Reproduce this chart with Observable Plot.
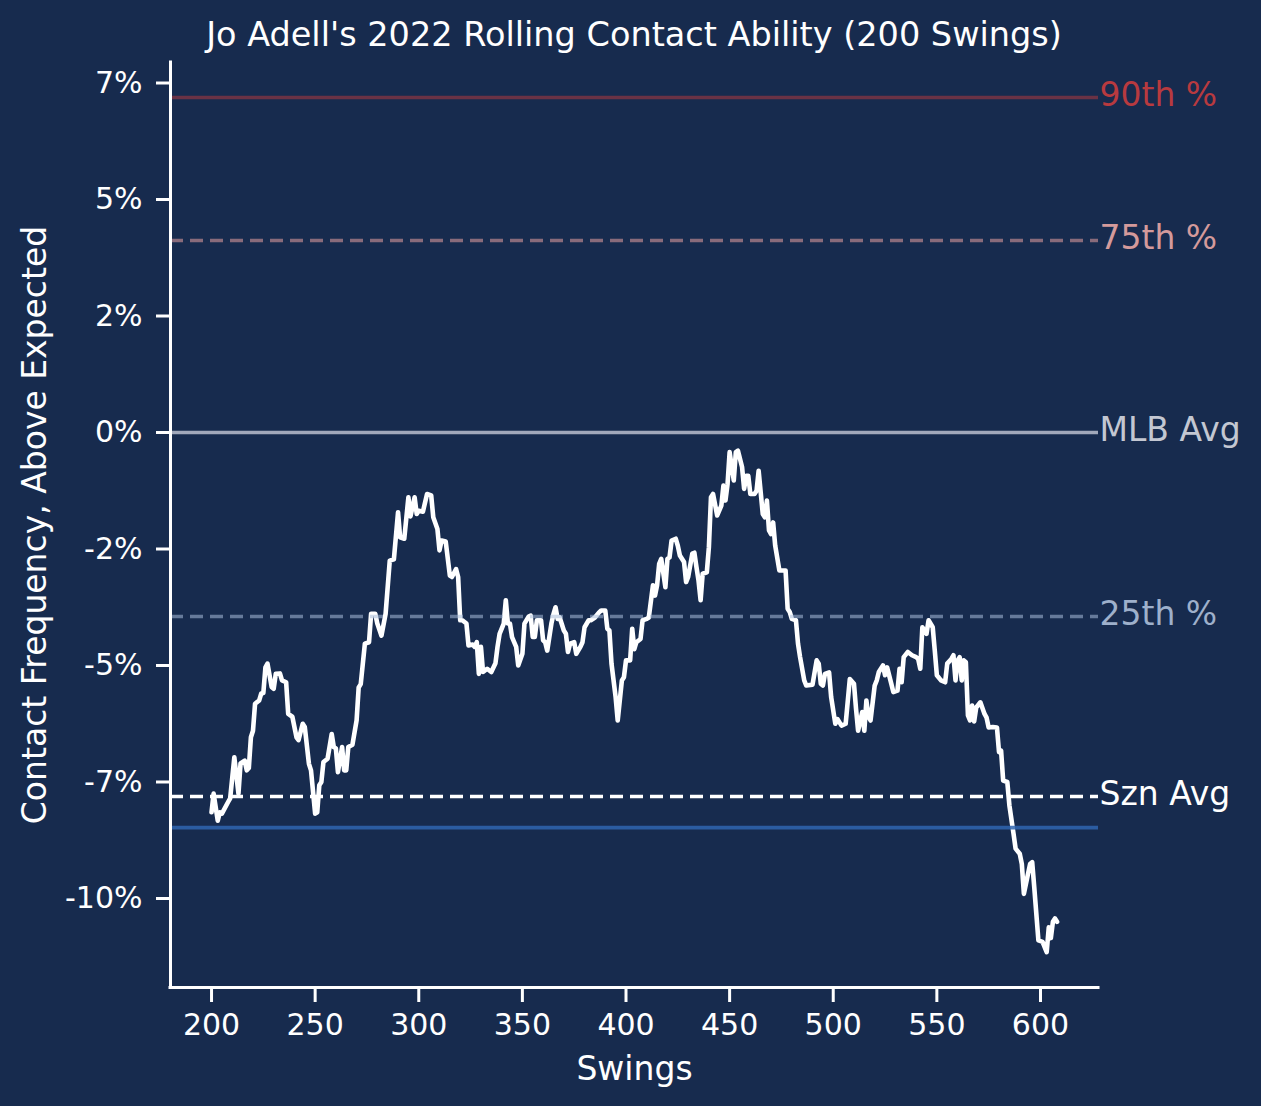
<!DOCTYPE html>
<html>
<head>
<meta charset="utf-8">
<script src="https://cdn.jsdelivr.net/npm/d3@7"></script>
<script src="https://cdn.jsdelivr.net/npm/@observablehq/plot@0.6"></script>
<style>
  html, body { margin: 0; padding: 0; background: #172b4e; }
  #wrap { position: relative; width: 1261px; height: 1106px; background: #172b4e; overflow: hidden; }
  #title { position: absolute; top: 18px; left: 170px; width: 928px; text-align: center; z-index: 2;
           font-family: "DejaVu Sans", sans-serif; font-size: 33.5px; line-height: 33px; color: #ffffff; white-space: nowrap; }
  #chart { position: absolute; top: 50px; left: 0; z-index: 1; }
</style>
</head>
<body>
<div id="wrap">
  <div id="title">Jo Adell's 2022 Rolling Contact Ability (200 Swings)</div>
  <div id="chart"></div>
</div>
<script>
const titleText = "Jo Adell's 2022 Rolling Contact Ability (200 Swings)";
const xLabel = "Swings";
const yLabel = "Contact Frequency, Above Expected";

const xTicks = [200, 250, 300, 350, 400, 450, 500, 550, 600];
const yTicks = [7.5, 5, 2.5, 0, -2.5, -5, -7.5, -10];
const yTickLabels = ["7%", "5%", "2%", "0%", "-2%", "-5%", "-7%", "-10%"];

const refNames = ["90th %", "75th %", "MLB Avg", "25th %", "Szn Avg", ""];
const refValues = [7.19, 4.12, 0, -3.95, -7.81, -8.48];

const swings = [
 200,201,203,204,205,208,209,211,213,214,
 216,217,218,219,220,221,223,224,225,226,
 227,229,230,231,233,234,236,237,239,241,
 242,244,245,247,248,250,251,252,253,254,
 256,258,259,260,261,263,264,265,266,268,
 270,271,272,274,276,277,279,280,282,284,
 286,288,290,291,293,295,296,298,299,300,
 302,304,306,307,309,310,311,313,315,316,
 318,319,320,321,323,324,326,327,328,329,
 330,331,333,335,337,338,339,341,342,343,
 344,345,347,348,350,351,353,354,355,356,
 357,359,360,361,362,364,365,366,367,368,
 370,371,372,373,375,376,378,379,380,382,
 383,385,387,388,390,391,392,393,395,396,
 398,399,400,402,403,404,405,407,408,410,
 411,413,414,415,416,417,419,420,421,422,
 424,425,426,428,429,430,432,433,434,435,
 436,437,439,440,441,442,444,446,447,448,
 449,450,452,453,454,456,457,458,459,460,
 462,463,464,466,467,468,469,470,471,472,
 474,475,477,478,479,480,482,483,484,486,
 487,490,492,493,494,495,496,498,499,501,
 502,504,506,508,510,511,512,514,515,516,
 517,518,520,521,522,524,525,526,528,529,
 531,532,533,534,536,538,540,541,542,543,
 545,546,548,549,550,552,554,555,557,558,
 559,560,561,562,563,564,565,566,567,568,
 569,571,573,574,575,577,579,580,581,582,
 584,585,587,588,590,591,592,594,595,596,
 597,599,601,603,604,605,606,607,608
];

const contact = [
 -8.15,-7.75,-8.33,-8.15,-8.18,-7.93,-7.85,-6.97,-7.75,-7.10,
 -7.04,-7.25,-7.20,-6.54,-6.40,-5.82,-5.75,-5.60,-5.59,-5.04,
 -4.96,-5.46,-5.50,-5.18,-5.17,-5.32,-5.36,-6.04,-6.10,-6.54,
 -6.60,-6.25,-6.32,-7.11,-7.25,-8.18,-8.15,-7.57,-7.50,-7.07,
 -7.00,-6.47,-6.75,-6.78,-7.29,-6.75,-7.25,-7.25,-6.75,-6.70,
 -6.18,-5.47,-5.40,-4.53,-4.50,-3.89,-3.89,-4.10,-4.36,-3.89,
 -2.75,-2.72,-1.71,-2.25,-2.28,-1.39,-1.80,-1.39,-1.75,-1.68,
 -1.70,-1.32,-1.35,-1.82,-2.07,-2.53,-2.32,-2.34,-3.07,-3.10,
 -2.93,-3.10,-4.03,-4.03,-4.10,-4.57,-4.55,-4.60,-4.50,-5.18,
 -4.60,-5.14,-5.07,-5.14,-4.95,-4.60,-4.32,-4.10,-3.60,-4.10,
 -4.10,-4.39,-4.60,-5.00,-4.75,-4.10,-3.95,-3.93,-4.39,-4.39,
 -4.03,-4.03,-4.46,-4.50,-4.68,-4.10,-3.90,-3.75,-4.00,-3.97,
 -4.25,-4.32,-4.71,-4.53,-4.50,-4.75,-4.60,-4.50,-4.18,-4.03,
 -4.03,-3.97,-3.86,-3.82,-3.82,-4.21,-4.25,-4.96,-5.68,-6.18,
 -5.32,-5.25,-4.89,-4.89,-4.21,-4.65,-4.50,-4.43,-4.03,-4.00,
 -3.97,-3.28,-3.50,-3.28,-2.82,-2.71,-3.32,-2.71,-2.68,-2.32,
 -2.28,-2.43,-2.64,-2.78,-3.21,-3.10,-2.60,-2.58,-2.89,-3.18,
 -3.60,-3.03,-3.00,-2.46,-1.39,-1.32,-1.78,-1.57,-1.14,-1.46,
 -1.11,-0.42,-1.03,-0.42,-0.39,-0.74,-1.21,-0.93,-0.93,-1.32,
 -1.32,-1.25,-0.82,-1.75,-1.82,-1.46,-2.10,-2.18,-1.93,-2.43,
 -2.96,-2.96,-2.96,-3.78,-3.85,-4.00,-4.03,-4.53,-4.82,-5.32,
 -5.43,-5.41,-4.89,-4.96,-5.39,-5.43,-5.18,-5.15,-5.68,-6.25,
 -6.15,-6.29,-6.25,-5.29,-5.39,-5.93,-6.40,-6.00,-6.40,-5.75,
 -6.10,-6.18,-5.43,-5.32,-5.14,-5.00,-5.21,-5.04,-5.39,-5.57,
 -5.54,-5.07,-5.36,-4.82,-4.71,-4.78,-4.82,-4.86,-5.07,-4.18,
 -4.32,-4.03,-4.18,-4.68,-5.21,-5.32,-5.36,-4.96,-4.86,-4.78,
 -5.32,-4.89,-4.82,-5.32,-4.89,-4.93,-6.07,-6.18,-5.86,-6.20,
 -5.90,-5.79,-6.04,-6.12,-6.33,-6.32,-6.33,-6.86,-6.83,-7.47,
 -7.50,-8.00,-8.61,-8.93,-9.04,-9.26,-9.90,-9.47,-9.26,-9.22,
 -9.76,-10.90,-10.93,-11.15,-10.62,-10.85,-10.50,-10.43,-10.50
];

const xDomain = [180.2, 628];
const yDomain = [-11.91, 7.94];

const rows = swings.map((s, i) => ({swing: s, value: contact[i]}));

const refStyles = [
  {stroke: "#d03b3b", strokeOpacity: 0.45, dash: null, label: "#b83a3f"},
  {stroke: "#e8a0a0", strokeOpacity: 0.55, dash: "13,7", label: "#d49a9b"},
  {stroke: "#c8ccd8", strokeOpacity: 0.78, dash: null, label: "#c3c7d2"},
  {stroke: "#a8bcd8", strokeOpacity: 0.55, dash: "13,7", label: "#9eb0cb"},
  {stroke: "#ffffff", strokeOpacity: 1, dash: "13,7", label: "#ffffff"},
  {stroke: "#2f65b0", strokeOpacity: 0.85, dash: null, label: "#2f65b0"}
];

const refMarks = [];
refValues.forEach((v, i) => {
  const st = refStyles[i];
  refMarks.push(Plot.ruleY([v], {
    stroke: st.stroke, strokeOpacity: st.strokeOpacity, strokeWidth: 3.6,
    strokeDasharray: st.dash ?? undefined
  }));
  if (refNames[i]) {
    refMarks.push(Plot.text([refNames[i]], {
      x: xDomain[1], y: v, text: d => d, textAnchor: "start", lineAnchor: "middle",
      dx: 1, dy: -2, fill: st.label, fontSize: 33
    }));
  }
});

const chart = Plot.plot({
  width: 1261,
  height: 1056,
  marginTop: 12,
  marginBottom: 119,
  marginLeft: 170,
  marginRight: 163,
  style: {background: "none", color: "#ffffff", fontFamily: "DejaVu Sans, sans-serif", overflow: "visible"},
  x: {domain: xDomain},
  y: {domain: yDomain},
  marks: [
    Plot.line(rows, {x: "swing", y: "value", stroke: "#ffffff", strokeWidth: 4.6, strokeLinejoin: "round", strokeLinecap: "round"}),
    ...refMarks,
    Plot.ruleX([xDomain[0]], {stroke: "#ffffff", strokeWidth: 3, strokeLinecap: "square"}),
    Plot.ruleY([yDomain[0]], {stroke: "#ffffff", strokeWidth: 3, strokeLinecap: "square"}),
    Plot.axisY({ticks: yTicks, tickFormat: d => yTickLabels[yTicks.indexOf(d)], tickSize: 14, tickPadding: 14,
      fontSize: 30, strokeWidth: 3, label: null}),
    Plot.axisX({ticks: xTicks, tickFormat: d => String(d), tickSize: 15, tickPadding: 11,
      fontSize: 30, strokeWidth: 3, label: null}),
    Plot.text([yLabel], {frameAnchor: "left", textAnchor: "middle", lineAnchor: "middle", text: d => d, rotate: -90, dx: -135, fontSize: 33, fill: "#ffffff"}),
    Plot.text([xLabel], {frameAnchor: "bottom", textAnchor: "middle", lineAnchor: "middle", text: d => d, dy: 82, fontSize: 33, fill: "#ffffff"})
  ]
});
document.getElementById("chart").appendChild(chart);
</script>
</body>
</html>
